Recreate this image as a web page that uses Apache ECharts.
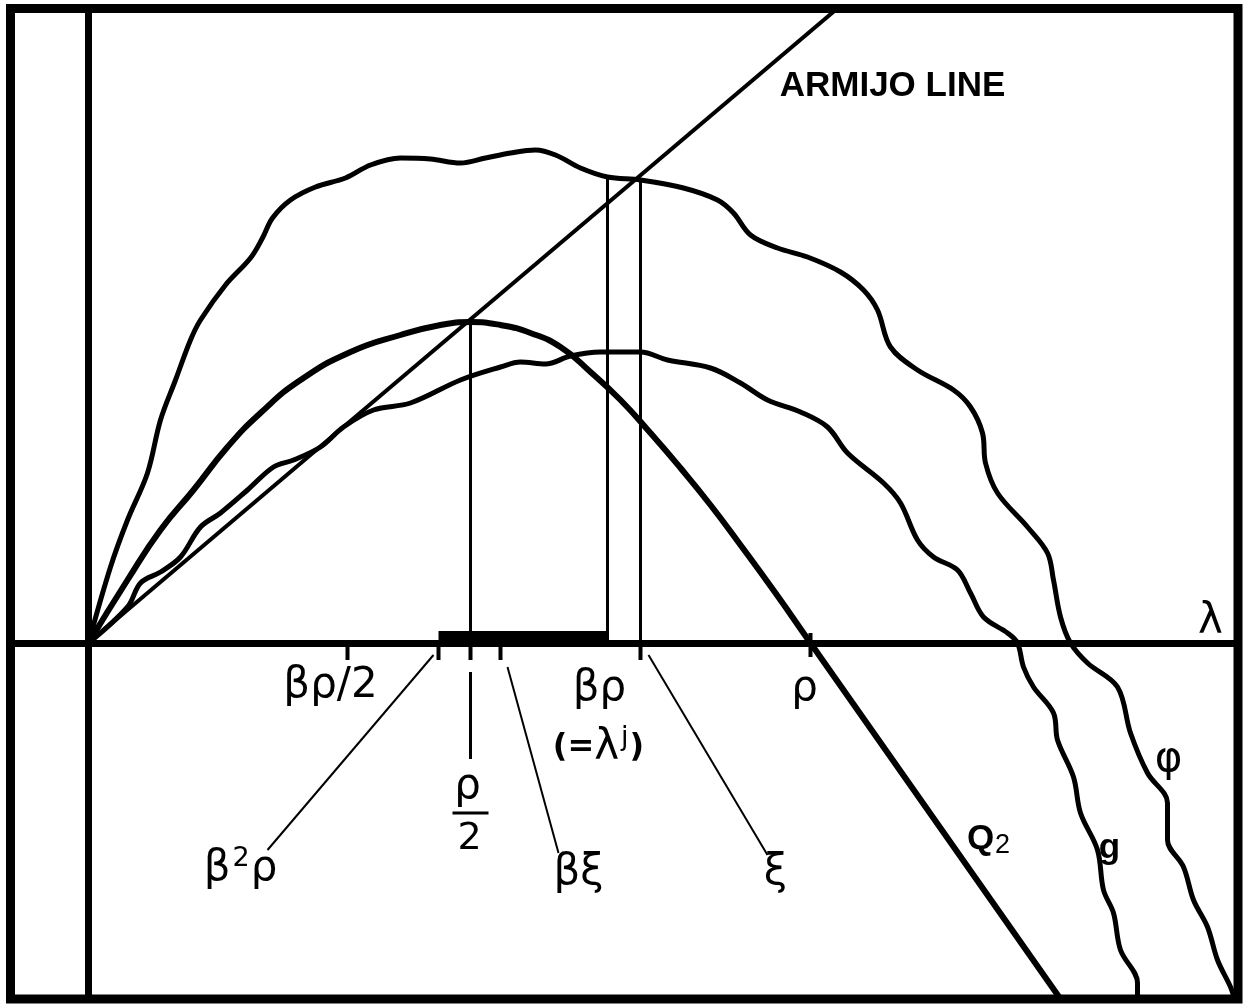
<!DOCTYPE html>
<html>
<head>
<meta charset="utf-8">
<script src="https://cdn.jsdelivr.net/npm/echarts@6/dist/echarts.min.js"></script>
<style>
  html, body { margin: 0; padding: 0; background: #fff; }
  #chart { width: 1250px; height: 1005px; }
</style>
</head>
<body>
<div id="chart"></div>
<script>
// Merit function φ along the search ray, its model g and the quadratic Q2.
// λ and function values share one unit (ρ sits at 72.2).
const phiCurve = [
  [0, 0], [2.2, 7.6], [3.9, 12.3], [5.9, 17.0], [7.2, 22.3], [8.7, 26.3], [10.2, 30.3],
  [11.2, 32.3], [13.7, 35.8], [16.2, 38.5], [17.4, 40.5], [18.4, 42.5], [20.2, 44.3],
  [22.7, 45.6], [25.7, 46.5], [28.2, 47.8], [31.2, 48.5], [34.2, 48.4], [37.2, 48.0],
  [39.7, 48.5], [42.2, 49.0], [44.7, 49.3], [46.7, 48.8], [49.2, 47.5], [51.9, 46.6],
  [55.2, 46.3], [59.5, 45.5], [62.9, 44.3], [64.5, 43.0], [66.2, 40.8], [68.9, 39.5],
  [71.9, 38.6], [75.2, 37.1], [77.5, 35.3], [78.9, 33.3], [80.2, 29.6], [82.9, 27.3],
  [86.5, 25.3], [88.2, 23.6], [89.4, 21.0], [89.7, 18.0], [90.9, 15.0], [93.9, 11.6],
  [95.9, 9.0], [96.5, 6.3], [97.2, 2.6], [98.2, 0], [99.9, -2.0], [102.9, -4.4],
  [104.2, -9.0], [105.9, -13.0], [107.9, -16.0], [107.9, -19.7], [109.5, -22.4],
  [110.5, -25.7], [111.9, -28.4], [112.9, -31.7], [114.2, -34.4], [114.6, -35.6]
];

const gCurve = [
  [0, 0], [3.9, 3.6], [5.2, 6.0], [7.2, 7.1], [9.2, 8.6], [11.2, 11.6], [13.2, 13.0],
  [15.9, 15.3], [18.5, 17.6], [20.5, 18.3], [23.2, 19.6], [25.5, 21.6], [28.5, 23.3],
  [32.2, 24.0], [37.2, 26.3], [41.2, 27.6], [43.2, 28.1], [45.7, 27.9], [48.2, 28.7],
  [51.2, 29.1], [55.2, 29.1], [57.9, 28.3], [62.2, 27.5], [65.2, 26.0], [67.9, 24.3],
  [71.2, 23.1], [73.9, 21.6], [75.9, 19.0], [79.5, 16.0], [81.2, 14.0], [82.9, 10.3],
  [84.5, 8.6], [86.9, 7.3], [88.2, 5.0], [89.5, 2.6], [91.9, 1.0], [92.9, 0],
  [93.5, -2.4], [94.5, -4.4], [96.5, -7.0], [96.9, -9.7], [98.5, -13.4], [99.2, -17.0],
  [100.9, -20.7], [101.5, -24.7], [102.5, -27.0], [103.2, -30.7], [104.9, -34.0],
  [104.9, -35.6]
];

const q2Curve = [
  [0, 0], [3.9, 6.3], [7.2, 11.3], [10.5, 15.3], [13.9, 19.6], [17.2, 23.0],
  [21.2, 26.3], [26.2, 29.1], [31.2, 30.8], [35.2, 31.8], [38.2, 32.1], [41.2, 31.8],
  [44.2, 31.0], [47.2, 29.6], [50.2, 27.1], [53.2, 24.3], [56.2, 21.0], [59.2, 17.5],
  [62.2, 13.8], [65.2, 9.8], [68.7, 5.0], [72.2, 0], [97.2, -35.6]
];

const armijoLine = [[0, 0], [76, 64.4]];

// Step lengths marked on the λ axis
const betaRhoHalf = 25.9;
const betaSqRho = 35.0;
const rhoHalf = 38.2;
const betaXi = 41.2;
const betaRho = 51.9;
const xi = 55.2;
const rho = 72.2;

// Heights where the vertical guides meet the curves
const q2AtRhoHalf = 32.1;
const phiAtBetaRho = 46.6;
const phiAtXi = 46.3;

// Leader lines from the axis marks to their names: [from, to]
const leaderBetaSqRho = [[34.5, -1.2], [17.9, -20.7]];
const leaderBetaXi = [[41.9, -2.4], [47.0, -21.0]];
const leaderXi = [[56.0, -1.2], [67.9, -21.2]];

// Text and its anchor point
const textLabels = [
  ['ARMIJO LINE', 80.4, 55.7, 'caps'],
  ['{g|λ}', 112.2, 2.1, 'greek'],
  ['{g|βρ/2}', 24.2, -4.3, 'greek'],
  ['{g|βρ}', 51.1, -4.6, 'greek'],
  ['{p|(=}{g|λ}{sup|j}{p|)}', 51.0, -10.5, 'greek'],
  ['{g|ρ}', 71.6, -4.6, 'greek'],
  ['{g|ρ}', 37.9, -14.4, 'greek'],
  ['{d|2}', 38.1, -19.6, 'greek'],
  ['{g|β}{sup|2}{g|ρ}', 15.2, -22.6, 'greek'],
  ['{g|βξ}', 49.0, -23.0, 'greek'],
  ['{g|ξ}', 68.7, -23.0, 'greek'],
  ['{q|Q}{sub|2}', 90.0, -19.6, 'greek'],
  ['{q|g}', 102.1, -20.5, 'greek'],
  ['{g|φ}', 108.0, -11.7, 'greek']
];
const fractionBar = [[36.4, -17.0], [40.0, -17.0]];

const richText = {
  g: { fontFamily: 'DejaVu Sans', fontSize: 42, color: '#000', lineHeight: 48 },
  p: { fontFamily: 'DejaVu Sans', fontSize: 32, fontWeight: 'bold', color: '#000', lineHeight: 48 },
  d: { fontFamily: 'DejaVu Sans', fontSize: 38, color: '#000', lineHeight: 48 },
  sup: { fontFamily: 'DejaVu Sans', fontSize: 27, color: '#000', lineHeight: 48, verticalAlign: 'top', padding: [0, 1, 0, 2] },
  q: { fontFamily: 'Liberation Sans', fontWeight: 'bold', fontSize: 35, color: '#000', lineHeight: 40 },
  sub: { fontFamily: 'Liberation Sans', fontSize: 27, color: '#000', lineHeight: 40, verticalAlign: 'bottom', padding: [12, 0, 0, 1] }
};

const labelStyles = {
  caps: { fontFamily: 'Liberation Sans', fontWeight: 'bold', fontSize: 35 },
  greek: { rich: richText }
};

function segment(data, width) {
  return {
    type: 'line', data: data, symbol: 'none', silent: true, animation: false,
    lineStyle: { color: '#000', width: width, cap: 'butt' }, z: 3
  };
}

function curve(data, width, smooth) {
  return {
    type: 'line', data: data, symbol: 'none', silent: true, animation: false,
    smooth: smooth, lineStyle: { color: '#000', width: width, join: 'round', cap: 'round' }, z: 4
  };
}

const axisTicks = [betaRhoHalf, betaSqRho, rhoHalf, betaXi, xi].map(function (x) {
  return segment([[x, 0], [x, -1.7]], 4);
});

const chart = echarts.init(document.getElementById('chart'), null, { renderer: 'canvas' });

chart.setOption({
  backgroundColor: '#fff',
  animation: false,
  grid: {
    left: 10.5, top: 8.5, width: 1227.5, height: 990.5,
    show: true, borderColor: '#000', borderWidth: 9, backgroundColor: '#fff'
  },
  xAxis: {
    type: 'value', min: -7.8, max: 114.95,
    axisLine: { onZero: true, lineStyle: { color: '#000', width: 7 } },
    axisTick: { show: false }, axisLabel: { show: false }, splitLine: { show: false }
  },
  yAxis: {
    type: 'value', min: -35.6, max: 63.45,
    axisLine: { onZero: true, lineStyle: { color: '#000', width: 7 } },
    axisTick: { show: false }, axisLabel: { show: false }, splitLine: { show: false }
  },
  series: [
    segment(armijoLine, 4),
    curve(phiCurve, 5, 0.35),
    curve(gCurve, 5, 0.35),
    curve(q2Curve, 6, 0.5),
    // guides from the axis up to the curves
    segment([[rhoHalf, 0], [rhoHalf, q2AtRhoHalf]], 3),
    segment([[rhoHalf, -2.9], [rhoHalf, -11.6]], 3),
    segment([[betaRho, 0], [betaRho, phiAtBetaRho]], 3),
    segment([[xi, 0], [xi, phiAtXi]], 3),
    // marks on the λ axis
    ...axisTicks,
    segment([[rho, 1.0], [rho, -1.4]], 4),
    segment(leaderBetaSqRho, 2),
    segment(leaderBetaXi, 2),
    segment(leaderXi, 2),
    segment(fractionBar, 3),
    // bracket [β²ρ, βρ] drawn as a solid band on the axis
    {
      type: 'custom', silent: true, animation: false, z: 5,
      data: [[betaSqRho, betaRho]],
      renderItem: function (params, api) {
        const p0 = api.coord([api.value(0), 0]);
        const p1 = api.coord([api.value(1), 1.2]);
        return {
          type: 'rect',
          shape: { x: p0[0], y: p1[1], width: p1[0] - p0[0], height: p0[1] - p1[1] },
          style: { fill: '#000' }
        };
      }
    },
    {
      type: 'scatter', silent: true, animation: false, z: 6,
      symbolSize: 1, itemStyle: { color: 'rgba(0,0,0,0)', opacity: 1 },
      data: textLabels.map(function (t) {
        return {
          value: [t[1], t[2]],
          label: Object.assign({
            show: true, position: 'inside', formatter: t[0], color: '#000', opacity: 1,
            align: 'center', verticalAlign: 'middle'
          }, labelStyles[t[3]])
        };
      })
    }
  ]
});
</script>
</body>
</html>
